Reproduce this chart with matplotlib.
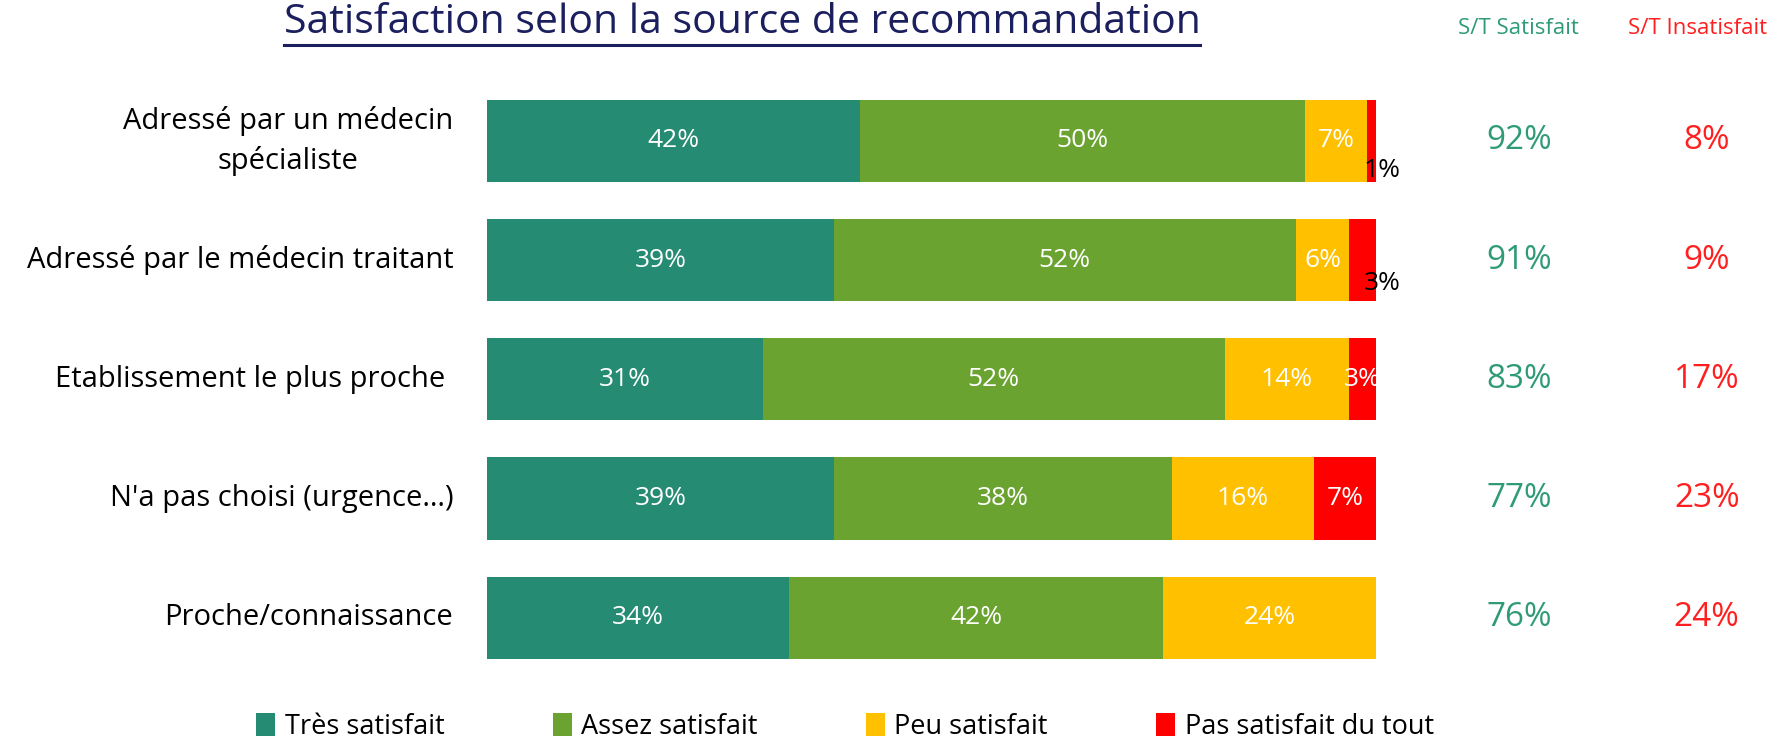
import numpy as np
import matplotlib
matplotlib.use("Agg")
import matplotlib.pyplot as plt
from matplotlib.patches import Patch
from matplotlib.lines import Line2D

plt.rcParams['font.family'] = ['Open Sans', 'DejaVu Sans']

# data
categories = ["Adressé par un médecin\nspécialiste", "Adressé par le médecin traitant",
              "Etablissement le plus proche ", "N'a pas choisi (urgence…)", "Proche/connaissance"]
series_names = ["Très satisfait", "Assez satisfait", "Peu satisfait", "Pas satisfait du tout"]
tres = [42, 39, 31, 39, 34]
assez = [50, 52, 52, 38, 42]
peu = [7, 6, 14, 16, 24]
pas = [1, 3, 3, 7, 0]
st_satisfait = [92, 91, 83, 77, 76]
st_insatisfait = [8, 9, 17, 23, 24]

colors = ["#268B73", "#6AA330", "#FFC000", "#FF0000"]
teal_txt = "#2E9A78"
red_txt = "#FF1F1F"
navy = "#1B1F5E"

fig = plt.figure(figsize=(17.75, 7.43), dpi=100)
ax = fig.add_axes([487 / 1775, 1 - 659 / 743, (1376 - 487) / 1775, (659 - 99.6) / 743])

y = np.arange(len(categories))
bh = 0.69
left = np.zeros(len(categories))
for vals, col in zip([tres, assez, peu, pas], colors):
    vals = np.array(vals, dtype=float)
    ax.barh(y, vals, left=left, height=bh, color=col, edgecolor='none')
    for i, v in enumerate(vals):
        if v <= 0:
            continue
        cx = left[i] + v / 2
        if col == colors[3] and i in (0, 1):
            # tiny red segments: label pushed out, black
            ax.text(left[i] + v + 0.7, i + (0.25 if i == 0 else 0.2), f"{int(v)}%",
                    ha='center', va='center', color='black', fontsize=19, clip_on=False)
        else:
            ax.text(cx, i, f"{int(v)}%", ha='center', va='center', color='white', fontsize=19)
    left += vals

ax.set_xlim(0, 100)
ax.set_ylim(len(categories) - 1 + 0.345, -0.345)
ax.axis('off')

for i, c in enumerate(categories):
    ax.text(-3.8, i, c, ha='right', va='center', multialignment='center', fontsize=21,
            linespacing=1.45, color='black')
    ax.text(116.1, i, f"{st_satisfait[i]}%", ha='center', va='center', fontsize=24, color=teal_txt, clip_on=False)
    ax.text(137.2, i, f"{st_insatisfait[i]}%", ha='center', va='center', fontsize=24, color=red_txt, clip_on=False)

ax.text(116.0, -0.945, "S/T Satisfait", ha='center', va='center', fontsize=16, color=teal_txt, clip_on=False)
ax.text(136.2, -0.945, "S/T Insatisfait", ha='center', va='center', fontsize=16, color=red_txt, clip_on=False)

title = fig.text(742 / 1775, 1 - 23 / 743, "Satisfaction selon la source de recommandation",
                 ha='center', va='center', fontsize=29.5, color=navy)
fig.canvas.draw()
bb = title.get_window_extent()
fig.add_artist(Line2D([bb.x0 / 1775, bb.x1 / 1775], [1 - 45 / 743, 1 - 45 / 743],
                      color=navy, lw=2.2, transform=fig.transFigure))

handles = [Patch(facecolor=c, edgecolor='none') for c in colors]
fig.legend(handles, series_names, loc='center', bbox_to_anchor=(845 / 1775, 1 - 727 / 743), ncol=4,
           frameon=False, fontsize=19.5, handlelength=0.7, handleheight=0.9, handletextpad=0.35,
           columnspacing=4.0)

fig.savefig("out.png", dpi=100)
